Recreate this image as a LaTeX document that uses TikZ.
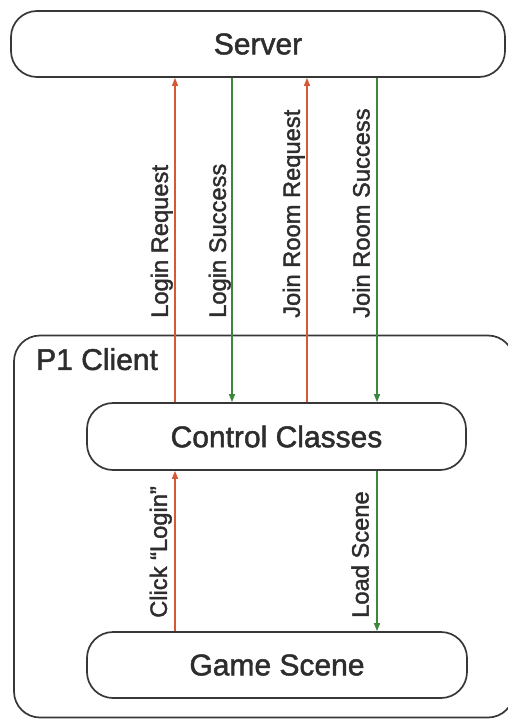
\documentclass[tikz,border=0pt]{standalone}
\usepackage{fontspec}
\setmainfont{Liberation Sans}[FakeBold=1.6]
\usetikzlibrary{arrows.meta}
\definecolor{edge}{RGB}{55,55,55}
\definecolor{txt}{RGB}{45,45,45}
\definecolor{req}{RGB}{214,88,52}
\definecolor{ack}{RGB}{62,134,62}
\tikzset{
  x=1pt, y=-1pt,
  box/.style={draw=edge, line width=1.7pt, rounded corners=26pt, inner sep=0pt,
    text=txt, font=\fontsize{30}{33}\selectfont},
  msg/.style={line width=1.3pt, -{Triangle[length=8pt,width=6pt]}},
  upmsg/.style={msg, draw=req},
  downmsg/.style={msg, draw=ack},
  lbl/.style={rotate=90, anchor=south west, inner sep=0pt, text=txt,
    font=\fontsize{23.7}{26}\selectfont}
}
\begin{document}
\begin{tikzpicture}
\useasboundingbox (0,0) rectangle (507,719);

% outer client frame and server bar
\node[box, minimum width=500pt, minimum height=382pt] (client) at (264,526.5) {};
\node[anchor=north west, text=txt, font=\fontsize{30}{33}\selectfont, inner sep=0pt]
  (clientlbl) at (36,348) {P1 Client};
\node[box, minimum width=494pt, minimum height=66pt] (server) at (258,44) {Server};

% inner components
\node[box, minimum width=379pt, minimum height=67pt] (control) at (276.5,436.5) {Control Classes};
\node[box, minimum width=380pt, minimum height=66pt] (scene) at (277,665) {Game Scene};

% server <-> control messages
\coordinate (lrA) at (175,0);
\coordinate (lsA) at (232,0);
\coordinate (jrA) at (307,0);
\coordinate (jsA) at (377,0);
\draw[upmsg] (lrA |- control.north) -- (lrA |- server.south);
\draw[downmsg] (lsA |- server.south) -- (lsA |- control.north);
\draw[upmsg] (jrA |- control.north) -- (jrA |- server.south);
\draw[downmsg] (jsA |- server.south) -- (jsA |- control.north);

\node[lbl] (l1) at (173,318) {Login Request};
\node[lbl] (l2) at (231,318) {Login Success};
\node[lbl] (l3) at (305,318) {Join Room Request};
\node[lbl] (l4) at (370,318) {Join Room Success};

% control <-> scene messages
\coordinate (ckA) at (175,0);
\coordinate (ldA) at (377,0);
\draw[upmsg] (ckA |- scene.north) -- (ckA |- control.south);
\draw[downmsg] (ldA |- control.south) -- (ldA |- scene.north);

\node[lbl] (l5) at (172,618) {Click ``Login''};
\node[lbl] (l6) at (369,618) {Load Scene};
\end{tikzpicture}
\end{document}
